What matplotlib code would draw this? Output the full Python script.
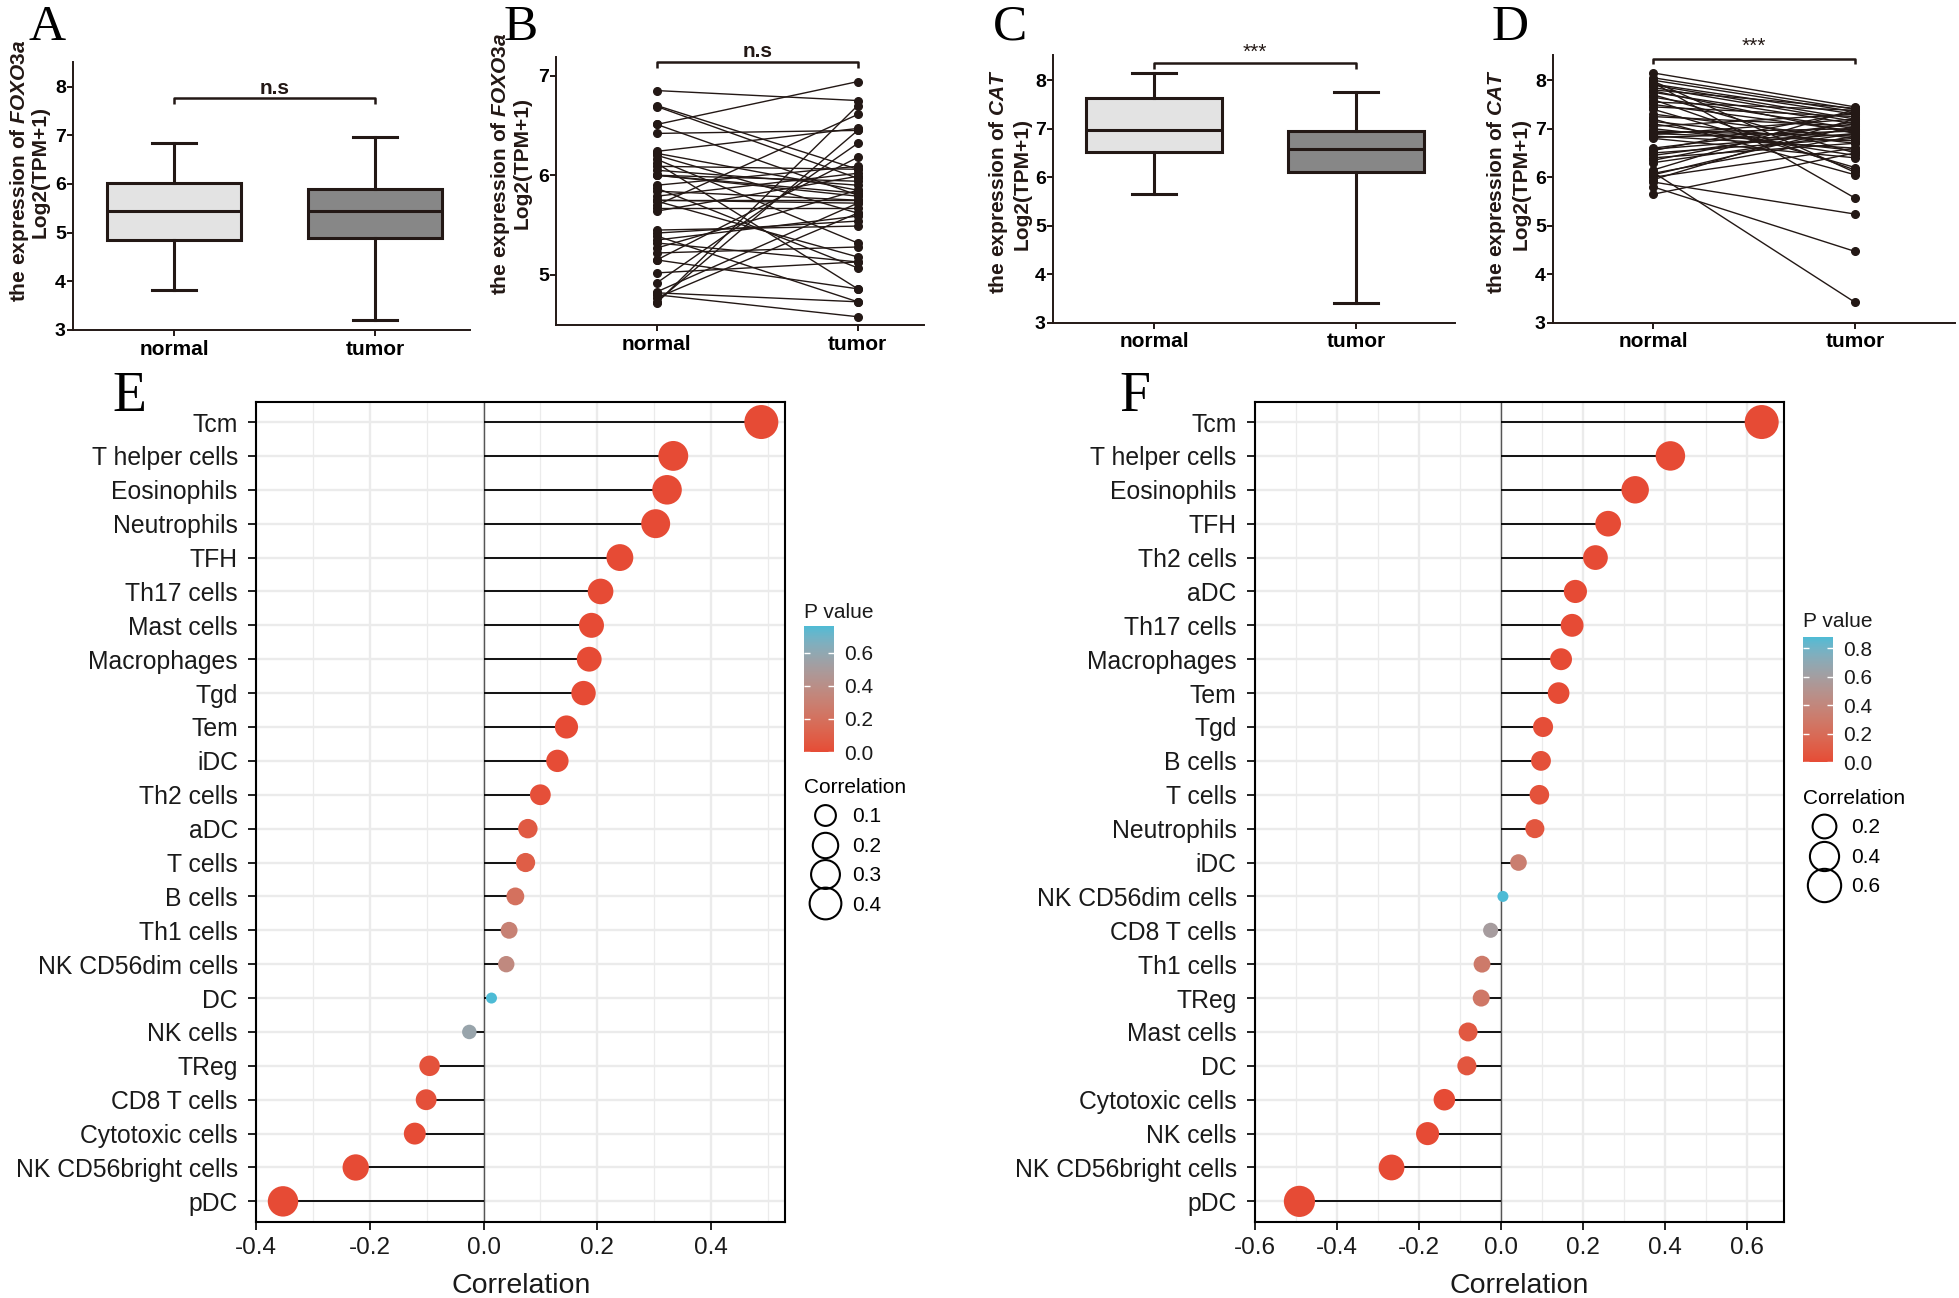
import matplotlib
matplotlib.use("Agg")
import matplotlib.pyplot as plt
import numpy as np
from matplotlib.colors import ListedColormap, Normalize, to_rgb
from matplotlib.cm import ScalarMappable
from matplotlib.lines import Line2D

plt.rcParams['font.family'] = ['Liberation Sans', 'DejaVu Sans']
plt.rcParams['mathtext.fontset'] = 'custom'
plt.rcParams['mathtext.it'] = 'Liberation Sans:italic:bold'
plt.rcParams['mathtext.rm'] = 'Liberation Sans:bold'
plt.rcParams['mathtext.bf'] = 'Liberation Sans:bold'

# ---- data ----
groups = ['normal', 'tumor']

# box stats: whislo, q1, median, q3, whishi
foxo3a_box = [[3.83, 4.85, 5.45, 6.02, 6.85],
              [3.21, 4.89, 5.45, 5.90, 6.96]]
cat_box = [[5.65, 6.51, 6.97, 7.64, 8.15],
           [3.41, 6.10, 6.59, 6.95, 7.76]]

# paired samples (panel B)
foxo3a_normal = [6.85, 6.70, 6.69, 6.51, 6.51, 6.42, 6.24, 6.22, 6.20, 6.16, 6.12,
                 6.09, 6.05, 6.00, 6.00, 6.00, 5.90, 5.87, 5.84, 5.79, 5.75, 5.75,
                 5.74, 5.70, 5.67, 5.64, 5.45, 5.42, 5.39, 5.35, 5.32, 5.27, 5.22,
                 5.15, 5.15, 5.02, 4.92, 4.83, 4.82, 4.80, 4.77, 4.73, 4.72]
foxo3a_tumor = [6.75, 6.06, 5.97, 6.94, 5.80, 6.45, 6.47, 5.85, 5.62, 5.32, 4.86,
                6.06, 5.90, 5.94, 5.82, 5.79, 6.09, 5.07, 5.75, 6.02, 5.72, 5.75,
                5.18, 6.61, 5.67, 5.99, 5.49, 5.54, 4.73, 5.59, 5.13, 5.85, 5.28,
                4.86, 6.18, 5.13, 6.32, 5.72, 4.73, 4.58, 5.62, 6.45, 6.70]

# paired samples (panel D)
cat_normal = [8.15, 8.05, 8.00, 7.98, 7.95, 7.92, 7.90, 7.85, 7.80, 7.78, 7.75,
              7.70, 7.65, 7.60, 7.55, 7.50, 7.45, 7.40, 7.30, 7.25, 7.20, 7.15,
              7.10, 7.05, 7.00, 6.95, 6.92, 6.90, 6.88, 6.85, 6.82, 6.80, 6.60,
              6.58, 6.55, 6.50, 6.45, 6.40, 6.35, 6.30, 6.15, 6.10, 6.08, 6.05,
              6.00, 5.95, 5.90, 5.80, 5.65]
cat_tumor = [7.45, 7.40, 7.35, 6.10, 5.57, 7.30, 7.20, 7.15, 7.42, 6.90, 7.10,
             6.50, 7.00, 6.15, 7.38, 6.95, 7.25, 6.20, 6.80, 7.05, 6.05, 6.70,
             6.45, 7.30, 6.55, 6.85, 7.00, 6.75, 7.20, 6.60, 6.95, 6.40, 7.10,
             6.90, 7.35, 6.80, 7.00, 6.70, 7.15, 6.90, 7.40, 3.42, 6.85, 7.05,
             6.60, 7.20, 5.24, 4.47, 6.50]

# immune infiltration correlation, FOXO3a (E)
cells_e = ['Tcm', 'T helper cells', 'Eosinophils', 'Neutrophils', 'TFH', 'Th17 cells',
           'Mast cells', 'Macrophages', 'Tgd', 'Tem', 'iDC', 'Th2 cells', 'aDC',
           'T cells', 'B cells', 'Th1 cells', 'NK CD56dim cells', 'DC', 'NK cells',
           'TReg', 'CD8 T cells', 'Cytotoxic cells', 'NK CD56bright cells', 'pDC']
cor_e = [0.489, 0.334, 0.323, 0.303, 0.240, 0.206, 0.190, 0.186, 0.176, 0.146,
         0.130, 0.100, 0.078, 0.074, 0.056, 0.045, 0.040, 0.014, -0.025, -0.095,
         -0.101, -0.121, -0.225, -0.353]
p_e = [0.0, 0.0, 0.0, 0.0, 0.0, 0.0, 0.0, 0.0, 0.0, 0.001, 0.003, 0.02, 0.07,
       0.09, 0.20, 0.31, 0.36, 0.76, 0.57, 0.03, 0.024, 0.006, 0.0, 0.0]

# immune infiltration correlation, CAT (F)
cells_f = ['Tcm', 'T helper cells', 'Eosinophils', 'TFH', 'Th2 cells', 'aDC',
           'Th17 cells', 'Macrophages', 'Tem', 'Tgd', 'B cells', 'T cells',
           'Neutrophils', 'iDC', 'NK CD56dim cells', 'CD8 T cells', 'Th1 cells',
           'TReg', 'Mast cells', 'DC', 'Cytotoxic cells', 'NK cells',
           'NK CD56bright cells', 'pDC']
cor_f = [0.637, 0.414, 0.328, 0.262, 0.231, 0.182, 0.174, 0.147, 0.141, 0.103,
         0.098, 0.094, 0.083, 0.043, 0.005, -0.025, -0.046, -0.048, -0.080,
         -0.083, -0.138, -0.179, -0.267, -0.492]
p_f = [0.0, 0.0, 0.0, 0.0, 0.0, 0.0, 0.0, 0.001, 0.002, 0.02, 0.03, 0.035, 0.06,
       0.33, 0.88, 0.59, 0.30, 0.28, 0.07, 0.06, 0.002, 0.0, 0.0, 0.0]

# ---- styling ----
W, H = 1959, 1298
DARK = '#231815'
WHITE_PT = np.array([0.95047, 1.0, 1.08883])
M = np.array([[0.4124, 0.3576, 0.1805],
              [0.2126, 0.7152, 0.0722],
              [0.0193, 0.1192, 0.9505]])


def to_lab(c):
    rgb = np.array(to_rgb(c))
    lin = np.where(rgb <= 0.04045, rgb / 12.92, ((rgb + 0.055) / 1.055) ** 2.4)
    xyz = M @ lin / WHITE_PT
    f = np.where(xyz > (6 / 29) ** 3, np.cbrt(xyz), xyz / (3 * (6 / 29) ** 2) + 4 / 29)
    return np.array([116 * f[1] - 16, 500 * (f[0] - f[1]), 200 * (f[1] - f[2])])


def from_lab(lab):
    fy = (lab[0] + 16) / 116
    f = np.array([fy + lab[1] / 500, fy, fy - lab[2] / 200])
    xyz = np.where(f > 6 / 29, f ** 3, 3 * (6 / 29) ** 2 * (f - 4 / 29)) * WHITE_PT
    lin = np.linalg.solve(M, xyz)
    rgb = np.where(lin <= 0.0031308, 12.92 * lin, 1.055 * np.clip(lin, 0, None) ** (1 / 2.4) - 0.055)
    return np.clip(rgb, 0, 1)


# low -> high gradient interpolated in Lab space, like ggplot
lab_lo, lab_hi = to_lab('#E64B35'), to_lab('#4DBBD5')
cmap = ListedColormap([from_lab(lab_lo + (lab_hi - lab_lo) * t)
                       for t in np.linspace(0, 1, 256)])

fig = plt.figure(figsize=(W / 100, H / 100), dpi=100)


def rect(l, t, r, b):
    return [l / W, 1 - b / H, (r - l) / W, (b - t) / H]


def ftext(x, y, s, **kw):
    fig.text(x / W, 1 - y / H, s, **kw)


def style_top(ax, ylim, yticks, xlim):
    ax.set_xlim(*xlim)
    ax.set_ylim(*ylim)
    for side in ['top', 'right']:
        ax.spines[side].set_visible(False)
    for side in ['left', 'bottom']:
        ax.spines[side].set_linewidth(1.4)
        ax.spines[side].set_color(DARK)
    ax.set_yticks(yticks)
    ax.set_yticklabels([str(v) for v in yticks], fontsize=14, fontweight='bold')
    ax.set_xticks([0, 1])
    ax.set_xticklabels(groups, fontsize=15, fontweight='bold')
    ax.tick_params(axis='y', length=4, width=1.4, pad=1, color=DARK)
    ax.tick_params(axis='x', length=4, width=1.4, pad=3, color=DARK)


def bracket(ax, y, drop, txt, ty, bold=True, size=15):
    ax.plot([0, 0, 1, 1], [y - drop, y, y, y - drop], color=DARK, lw=1.8,
            clip_on=False, solid_capstyle='butt')
    ax.text(0.5, ty, txt, ha='center', va='center', fontsize=size,
            fontweight='bold' if bold else 'normal', color=DARK)


def box_panel(r, stats, ylim, xlim, txt, sig_y, drop, ty, bold):
    ax = fig.add_axes(rect(*r))
    bst = [dict(whislo=s[0], q1=s[1], med=s[2], q3=s[3], whishi=s[4], label=g)
           for s, g in zip(stats, groups)]
    res = ax.bxp(bst, positions=[0, 1], widths=0.67, capwidths=0.22,
                 showfliers=False, patch_artist=True,
                 boxprops=dict(linewidth=2.2, edgecolor=DARK),
                 medianprops=dict(linewidth=2.2, color=DARK),
                 whiskerprops=dict(linewidth=2.2, color=DARK),
                 capprops=dict(linewidth=2.2, color=DARK))
    for patch, fc in zip(res['boxes'], ['#E3E3E3', '#878787']):
        patch.set_facecolor(fc)
    style_top(ax, ylim, [3, 4, 5, 6, 7, 8], xlim)
    bracket(ax, sig_y, drop, txt, ty, bold)
    return ax


def paired_panel(r, normal, tumor, ylim, yticks, xlim, txt, sig_y, drop, ty, bold):
    ax = fig.add_axes(rect(*r))
    for a, b in zip(normal, tumor):
        ax.plot([0, 1], [a, b], '-', color=DARK, lw=1.0, marker='o', ms=5.5,
                mfc=DARK, mec=DARK, clip_on=False)
    style_top(ax, ylim, yticks, xlim)
    bracket(ax, sig_y, drop, txt, ty, bold)
    return ax


def ylab2(x1, y1, x2, y2, gene):
    ftext(x1, y1, 'the expression of $\\mathit{' + gene + '}$', rotation=90,
          ha='center', va='center', fontsize=15, fontweight='bold', color=DARK)
    ftext(x2, y2, 'Log2(TPM+1)', rotation=90, ha='center', va='center',
          fontsize=15, fontweight='bold', color=DARK)


# ---- panels A-D ----
box_panel((72.7, 61.7, 470, 330), foxo3a_box, (3, 8.51), (-0.504, 1.473),
          'n.s', 7.76, 0.12, 7.95, True)
ylab2(20, 171, 40, 172, 'FOXO3a')

paired_panel((556, 56.7, 924, 325), foxo3a_normal, foxo3a_tumor, (4.497, 7.19),
             [5, 6, 7], (-0.502, 1.33), 'n.s', 7.14, 0.06, 7.24, True)
ylab2(501, 164, 522, 163, 'FOXO3a')

box_panel((1052.7, 55, 1455, 322.7), cat_box, (3, 8.52), (-0.502, 1.49),
          '***', 8.36, 0.12, 8.57, False)
ylab2(998, 181, 1022, 184, 'CAT')

paired_panel((1552.7, 55, 1955, 322.7), cat_normal, cat_tumor, (3, 8.52),
             [3, 4, 5, 6, 7, 8], (-0.499, 1.496), '***', 8.43, 0.09, 8.70, False)
ylab2(1497, 181, 1521, 184, 'CAT')

for lab, x, y in [('A', 47, 40), ('B', 521, 40), ('C', 1010, 40), ('D', 1510, 40)]:
    ftext(x, y, lab, fontsize=37, family='Liberation Serif', ha='center',
          va='baseline', color='black')


# ---- panels E, F ----
def dot_size(mag, lo, hi):
    t = np.clip((np.asarray(mag) - lo) / (hi - lo), 0, 1)
    d = 11 + 23 * np.sqrt(t)
    return (d * 0.72) ** 2


def lollipop(r, cells, cor, pv, xlim, majors, minors, pmax, pticks,
             cbar_r, ptitle_xy, sizes, leg_xy):
    ax = fig.add_axes(rect(*r))
    cor = np.asarray(cor)
    y = np.arange(len(cells))
    mag = np.abs(cor)
    lo, hi = mag.min(), mag.max()
    norm = Normalize(0, pmax)

    ax.set_axisbelow(True)
    ax.set_xticks(majors)
    ax.set_xticks(minors, minor=True)
    ax.grid(which='major', color='#EBEBEB', lw=1.7)
    ax.grid(which='minor', axis='x', color='#EBEBEB', lw=0.9)
    ax.axvline(0, color='#555555', lw=1.0, zorder=1.5)
    ax.hlines(y, 0, cor, color='black', lw=1.3, zorder=2)
    ax.scatter(cor, y, s=dot_size(mag, lo, hi), c=pv, cmap=cmap, norm=norm,
               edgecolors='none', zorder=3)

    ax.set_xlim(*xlim)
    ax.set_ylim(len(cells) - 0.4, -0.6)
    ax.set_yticks(y)
    ax.set_yticklabels(cells, fontsize=17.8, color='#1A1A1A')
    ax.set_xticklabels(['%.1f' % v if abs(v) > 1e-9 else '0.0' for v in majors],
                       fontsize=17.5, color='#1A1A1A')
    ax.tick_params(which='major', length=5.8, width=1.4, color='#222222')
    ax.tick_params(axis='y', pad=7.5)
    ax.tick_params(axis='x', pad=5)
    ax.tick_params(which='minor', length=0)
    ax.set_xlabel('Correlation', fontsize=20.5, color='#1A1A1A', labelpad=10)
    for sp in ax.spines.values():
        sp.set_linewidth(1.5)
        sp.set_color('black')

    # P value colorbar
    cax = fig.add_axes(rect(*cbar_r))
    cb = fig.colorbar(ScalarMappable(norm=norm, cmap=cmap), cax=cax)
    cb.outline.set_visible(False)
    cb.set_ticks(pticks)
    cb.set_ticklabels(['%.1f' % v for v in pticks])
    cb.ax.tick_params(direction='in', color='white', length=4, width=1,
                      left=True, right=True, labelsize=15, pad=7,
                      labelcolor='#1A1A1A')
    ftext(ptitle_xy[0], ptitle_xy[1], 'P value', fontsize=15, va='center',
          ha='left', color='#1A1A1A')

    # size legend
    handles = [Line2D([], [], ls='', marker='o', mfc='none', mec='black', mew=1.5,
                      markersize=np.sqrt(dot_size(v, lo, hi))) for v in sizes]
    fig.legend(handles, ['%.1f' % v for v in sizes], title='Correlation',
               loc='upper left', bbox_to_anchor=(leg_xy[0] / W, 1 - leg_xy[1] / H),
               frameon=False, fontsize=15, title_fontsize=15, alignment='left',
               labelspacing=0.5, handletextpad=0.3, borderpad=0, borderaxespad=0,
               handlelength=2.0)
    return ax


lollipop((256.3, 401.7, 785.2, 1221.7), cells_e, cor_e, p_e, (-0.4, 0.531),
         [-0.4, -0.2, 0.0, 0.2, 0.4], [-0.3, -0.1, 0.1, 0.3, 0.5], 0.76,
         [0.0, 0.2, 0.4, 0.6], (804, 626, 834, 752), (804, 612),
         [0.1, 0.2, 0.3, 0.4], (804, 778))

lollipop((1255.2, 401.7, 1783.8, 1221.7), cells_f, cor_f, p_f, (-0.6, 0.691),
         [-0.6, -0.4, -0.2, 0.0, 0.2, 0.4, 0.6], [-0.5, -0.3, -0.1, 0.1, 0.3, 0.5],
         0.88, [0.0, 0.2, 0.4, 0.6, 0.8], (1803, 637, 1833, 762), (1803, 622),
         [0.2, 0.4, 0.6], (1803, 789))

ftext(129, 411, 'E', fontsize=40, family='Liberation Serif', ha='center',
      va='baseline', color='black')
ftext(1135, 411, 'F', fontsize=40, family='Liberation Serif', ha='center',
      va='baseline', color='black')

fig.savefig('out.png', dpi=100)
